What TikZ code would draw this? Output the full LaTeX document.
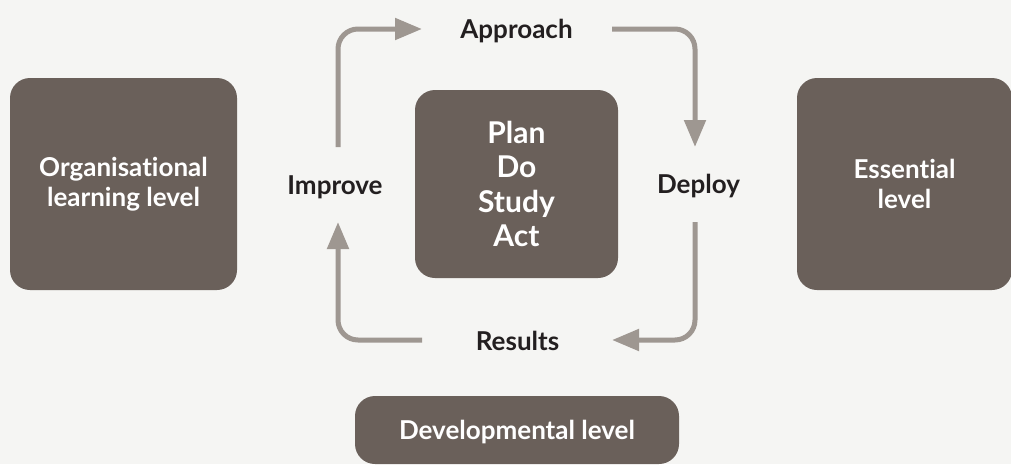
\documentclass[tikz,border=0pt]{standalone}
\usepackage{fontspec}
\setmainfont{Lato}[Ligatures={NoCommon,NoRare,NoContextual}]
\usetikzlibrary{arrows.meta}
\definecolor{boxgrey}{HTML}{6A605A}
\definecolor{arrowgrey}{HTML}{9E9791}
\definecolor{pagegrey}{HTML}{F5F5F3}
\definecolor{textdark}{HTML}{231F20}

\begin{document}
\begin{tikzpicture}[x=1pt,y=-1pt,
  levelbox/.style={fill=boxgrey,text=white,rounded corners=20pt,inner sep=0pt,
    align=center,font=\fontsize{26}{30}\selectfont\bfseries},
  steplabel/.style={anchor=base,text=textdark,font=\fontsize{26}{30}\selectfont\bfseries},
  cyclearrow/.style={draw=arrowgrey,line width=5pt,rounded corners=20pt,
    -{Triangle[length=27pt,width=21pt]}}]
% background and size of the page
\fill[pagegrey] (0,0) rectangle (1011,464);
\useasboundingbox (0,0) rectangle (1011,464);
% the level boxes
\node[levelbox,minimum width=227pt,minimum height=212pt] (org) at (123.5,184) {Organisational\\learning level}; % left box
\node[levelbox,minimum width=215pt,minimum height=212pt] (ess) at (904.5,184) {Essential\\level}; % right box
\node[levelbox,minimum width=324pt,minimum height=68pt,text depth=0pt] (dev) at (517,430) {Developmental level}; % bottom box
% the cycle in the middle
\node[levelbox,minimum width=203pt,minimum height=188pt,font=\fontsize{30}{34.5}\selectfont\bfseries] (pdsa) at (516.5,184) {Plan\\Do\\Study\\Act};
\node[steplabel] (app) at (516.5,38) {Approach};
\node[steplabel] (dep) at (698.5,193) {Deploy};
\node[steplabel] (res) at (517.5,350) {Results};
\node[steplabel] (imp) at (335,194) {Improve};
% ends of the arrows
\coordinate (impout) at (338,147);
\coordinate (appin) at (422,29);
\coordinate (appout) at (612,29);
\coordinate (depin) at (695,147);
\coordinate (depout) at (695,222);
\coordinate (resin) at (612,340);
\coordinate (resout) at (422,340);
\coordinate (impin) at (338,222);
\draw[cyclearrow] (impout) |- (appin); % improve to approach
\draw[cyclearrow] (appout) -| (depin); % approach to deploy
\draw[cyclearrow] (depout) |- (resin); % deploy to results
\draw[cyclearrow] (resout) -| (impin); % results to improve
\end{tikzpicture}
\end{document}
